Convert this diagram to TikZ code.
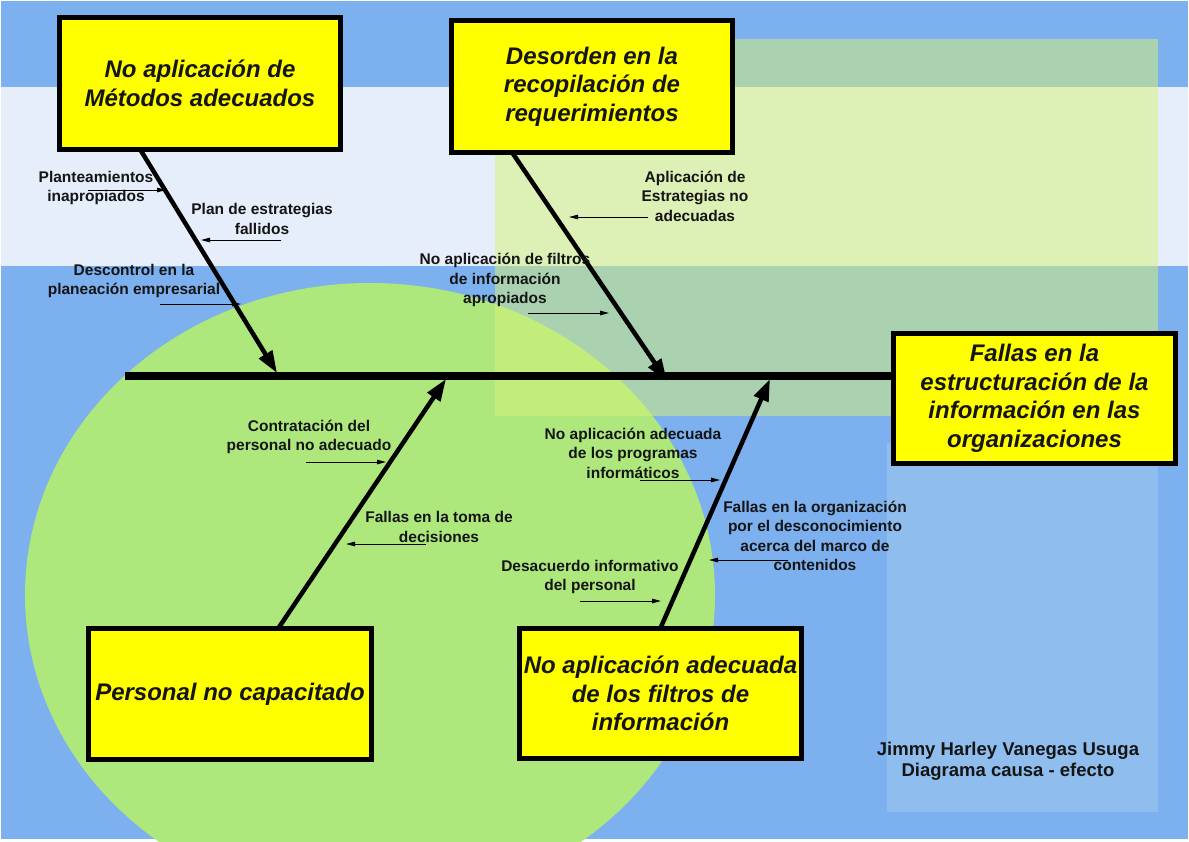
\documentclass[tikz,border=0pt]{standalone}
\usepackage{fontspec}
\setmainfont{Liberation Sans}
\usetikzlibrary{arrows.meta}
\definecolor{bgblue}{HTML}{7DB0EE}
\definecolor{bandlight}{HTML}{E6EEFB}
\definecolor{circgreen}{HTML}{AEE87D}
\definecolor{rectgreen}{RGB}{213,243,120}
\definecolor{paleblue}{HTML}{8FBEEE}
\definecolor{boxyellow}{HTML}{FFFF00}
\definecolor{inkdark}{HTML}{151515}
\begin{document}
\begin{tikzpicture}[x=1pt,y=-1pt,
  cause/.style={draw=black, line width=5pt, fill=boxyellow, inner sep=0pt, align=center, text=inkdark,
    font=\fontsize{24}{28.5}\selectfont\bfseries\itshape},
  lbl/.style={align=center, inner sep=0pt, text=inkdark, font=\fontsize{15.5}{19.5}\selectfont\bfseries},
  author/.style={align=center, inner sep=0pt, text=inkdark, font=\fontsize{18.5}{21}\selectfont\bfseries},
  bone/.style={line width=4.5pt, -{Triangle[length=22pt,width=15pt]}},
  spine/.style={line width=7.5pt},
  sub/.style={line width=1pt, -{Triangle[length=9pt,width=4.5pt]}},
  ]
\useasboundingbox (0,0) rectangle (1189,841);
% background
\fill[white] (0,0) rectangle (1189,841);
\fill[bgblue] (1,1) rectangle (1188,839);
\fill[bandlight] (1,87) rectangle (1188,266);
\fill[circgreen] (370,595) ellipse [x radius=345pt, y radius=312pt];
\fill[rectgreen, fill opacity=0.52] (495,39) rectangle (1158,416);
\fill[paleblue] (887,443) rectangle (1158,812);

% spine
\node[cause, minimum width=282pt, minimum height=130pt] (b5) at (1034.5,398.5)
  {Fallas en la\\estructuración de la\\información en las\\organizaciones};
\coordinate (tail) at (125,376);
\draw[spine] (tail) -- (tail -| b5.west);

% cause boxes
\node[cause, minimum width=281pt, minimum height=132pt] (b1) at (200,83.5) {No aplicación de\\Métodos adecuados};
\node[cause, minimum width=281pt, minimum height=132pt] (b2) at (592,86.5) {Desorden en la\\recopilación de\\requerimientos};
\node[cause, minimum width=283pt, minimum height=131pt] (b3) at (230,694) {Personal no capacitado};
\node[cause, minimum width=282pt, minimum height=130pt] (b4) at (660.5,693.5) {No aplicación adecuada\\de los filtros de\\información};

% bones
\coordinate (t1) at (277,373);
\coordinate (t2) at (667,381);
\coordinate (t3) at (446,379);
\coordinate (t4) at (770,379);
\draw[bone] ([xshift=83.5pt,yshift=2pt]b1.south west) -- (t1);
\draw[bone] ([xshift=63.5pt,yshift=2pt]b2.south west) -- (t2);
\draw[bone] ([xshift=192.5pt,yshift=-2pt]b3.north west) -- (t3);
\draw[bone] ([xshift=143.5pt,yshift=-2pt]b4.north west) -- (t4);

% sub-causes
\node[lbl] (l1) at (96,188) {Planteamientos\\inapropiados};
\coordinate (a1s) at (88,190); \coordinate (a1e) at (166,190);
\draw[sub] (a1s) -- (a1e);

\node[lbl] (l2) at (262,219) {Plan de estrategias\\fallidos};
\coordinate (a2s) at (281,240); \coordinate (a2e) at (201,240);
\draw[sub] (a2s) -- (a2e);

\node[lbl] (l3) at (134,281) {Descontrol en la\\planeación empresarial};
\coordinate (a3s) at (160,304); \coordinate (a3e) at (241,304);
\draw[sub] (a3s) -- (a3e);

\node[lbl] (l4) at (695,196) {Aplicación de\\Estrategias no\\adecuadas};
\coordinate (a4s) at (648,217); \coordinate (a4e) at (569,217);
\draw[sub] (a4s) -- (a4e);

\node[lbl] (l5) at (505,280) {No aplicación de filtros\\de información\\apropiados};
\coordinate (a5s) at (528,313); \coordinate (a5e) at (609,313);
\draw[sub] (a5s) -- (a5e);

\node[lbl] (l6) at (309,437) {Contratación del\\personal no adecuado};
\coordinate (a6s) at (306,462); \coordinate (a6e) at (386,462);
\draw[sub] (a6s) -- (a6e);

\node[lbl] (l7) at (439,527) {Fallas en la toma de\\decisiones};
\coordinate (a7s) at (426,544); \coordinate (a7e) at (346,544);
\draw[sub] (a7s) -- (a7e);

\node[lbl] (l8) at (633,453) {No aplicación adecuada\\de los programas\\informáticos};
\coordinate (a8s) at (640,480); \coordinate (a8e) at (720,480);
\draw[sub] (a8s) -- (a8e);

\node[lbl] (l9) at (815,536) {Fallas en la organización\\por el desconocimiento\\acerca del marco de\\contenidos};
\coordinate (a9s) at (788,560); \coordinate (a9e) at (709,560);
\draw[sub] (a9s) -- (a9e);

\node[lbl] (l10) at (590,577) {Desacuerdo informativo\\del personal};
\coordinate (a10s) at (580,601); \coordinate (a10e) at (661,601);
\draw[sub] (a10s) -- (a10e);

% author
\node[author] (auth) at (1008,761.5) {Jimmy Harley Vanegas Usuga\\Diagrama causa - efecto};
\end{tikzpicture}
\end{document}
